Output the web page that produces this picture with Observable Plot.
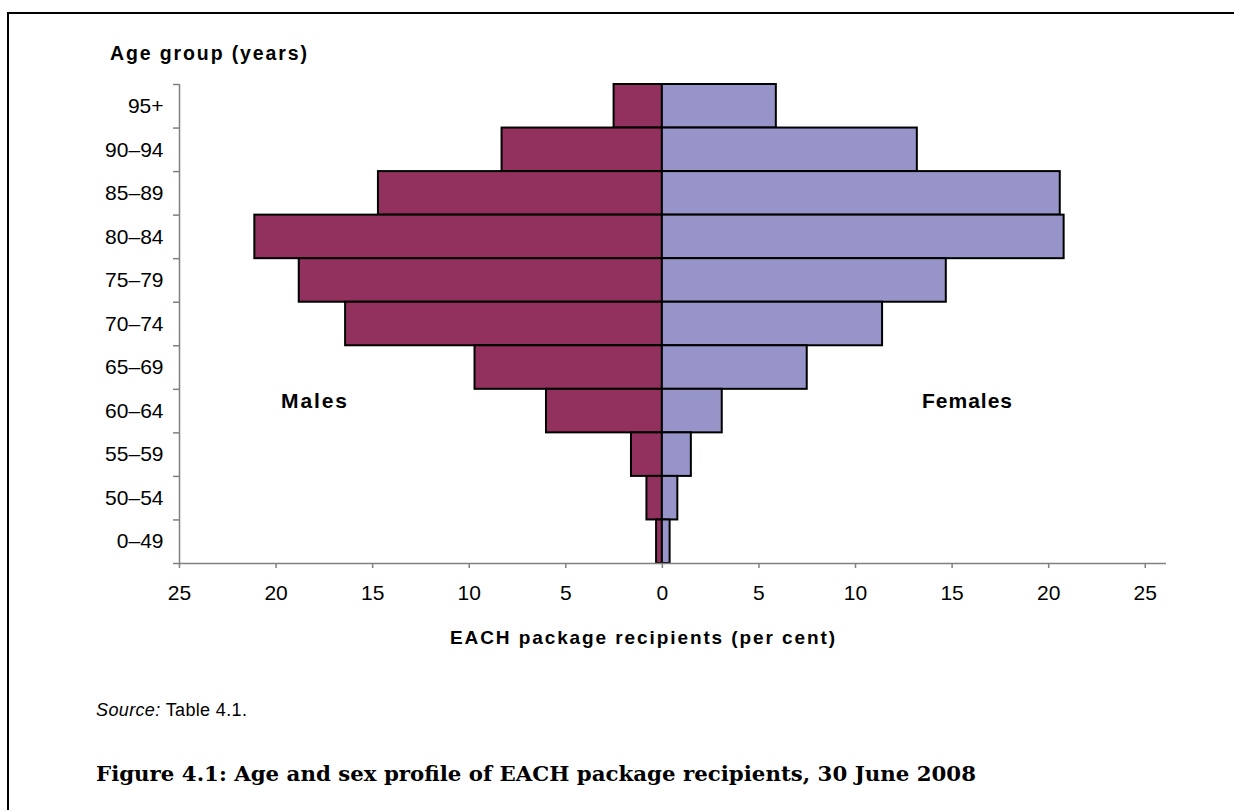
<!DOCTYPE html>
<html>
<head>
<meta charset="utf-8">
<script src="https://cdn.jsdelivr.net/npm/d3@7"></script>
<script src="https://cdn.jsdelivr.net/npm/@observablehq/plot@0.6"></script>
<style>
  html, body { margin: 0; padding: 0; background: #fff; }
  #wrap { position: relative; width: 1234px; height: 810px; overflow: hidden; }
  #frame { position: absolute; left: 7px; top: 12px; width: 1300px; height: 900px;
           border-top: 2px solid #000; border-left: 2px solid #000; }
  #chart { position: absolute; left: 0; top: 0; }
  #overlay { position: absolute; left: 0; top: 0; pointer-events: none; }
  text { font-family: "Liberation Sans", Arial, sans-serif; }
</style>
</head>
<body>
<div id="wrap">
  <div id="frame"></div>
  <div id="chart"></div>
  <svg id="overlay" width="1234" height="810">
    <text x="110" y="60" font-size="19.5" font-weight="bold" textLength="197" lengthAdjust="spacing">Age group (years)</text>
    <text x="281" y="408" font-size="21" font-weight="bold" textLength="66" lengthAdjust="spacing">Males</text>
    <text x="922" y="408" font-size="21" font-weight="bold" textLength="90" lengthAdjust="spacing">Females</text>
    <text x="450" y="644" font-size="19" font-weight="bold" textLength="385" lengthAdjust="spacing">EACH package recipients (per cent)</text>
    <text x="96" y="716" font-size="18" textLength="151" lengthAdjust="spacing"><tspan font-style="italic">Source:</tspan> Table 4.1.</text>
    <text x="96" y="781" font-size="20.5" font-weight="bold" style="font-family:'DejaVu Serif', serif" textLength="880" lengthAdjust="spacingAndGlyphs">Figure 4.1: Age and sex profile of EACH package recipients, 30 June 2008</text>
  </svg>
</div>
<script>
// Age groups, top to bottom as shown
const ages = ["95+", "90–94", "85–89", "80–84", "75–79", "70–74", "65–69", "60–64", "55–59", "50–54", "0–49"];
// Per cent of EACH package recipients
const males   = [2.5, 8.3, 14.7, 21.1, 18.8, 16.4, 9.7, 6.0, 1.6, 0.8, 0.3];
const females = [5.9, 13.2, 20.6, 20.8, 14.7, 11.4, 7.5, 3.1, 1.5, 0.8, 0.4];
const xTicks = [-25, -20, -15, -10, -5, 0, 5, 10, 15, 20, 25];

const n = ages.length;
// row index from the bottom (0 = youngest group)
const rows = ages.map((age, i) => ({age, pos: n - 1 - i, male: males[i], female: females[i]}));
const boundaries = d3.range(0, n + 1);
const centers = rows.map(r => r.pos + 0.5);
const labelAt = v => rows.find(r => r.pos + 0.5 === v).age;

const maleColor = "#93315E";
const femaleColor = "#9694C8";
const axisGray = "#808080";

const H = 660;
const chart = Plot.plot({
  width: 1234,
  height: H,
  marginTop: 84,
  marginBottom: H - 563,
  marginLeft: 179,
  marginRight: 68,
  x: {domain: [-25, 26.1], axis: null},
  y: {domain: [0, n], axis: null},
  style: {fontFamily: "'Liberation Sans', Arial, sans-serif", background: "transparent"},
  marks: [
    Plot.rectX(rows, {x1: 0, x2: d => -d.male, y1: "pos", y2: d => d.pos + 1,
      fill: maleColor, stroke: "#000", strokeWidth: 2}),
    Plot.rectX(rows, {x1: 0, x2: "female", y1: "pos", y2: d => d.pos + 1,
      fill: femaleColor, stroke: "#000", strokeWidth: 2}),
    Plot.ruleX([-25], {stroke: axisGray, strokeWidth: 1.5}),
    Plot.ruleY([0], {stroke: axisGray, strokeWidth: 1.5}),
    Plot.axisY(boundaries, {tickSize: 6, tickFormat: () => "", stroke: axisGray, strokeWidth: 1.5, label: null}),
    Plot.axisY(centers, {tickSize: 0, tickPadding: 16, tickFormat: labelAt, fontSize: 21, fill: "#000", label: null}),
    Plot.axisX(xTicks, {tickSize: 5, tickPadding: 17, tickFormat: d => Math.abs(d), fontSize: 21,
      stroke: axisGray, strokeWidth: 1.5, fill: "#000", label: null})
  ]
});
document.getElementById("chart").appendChild(chart);
</script>
</body>
</html>
